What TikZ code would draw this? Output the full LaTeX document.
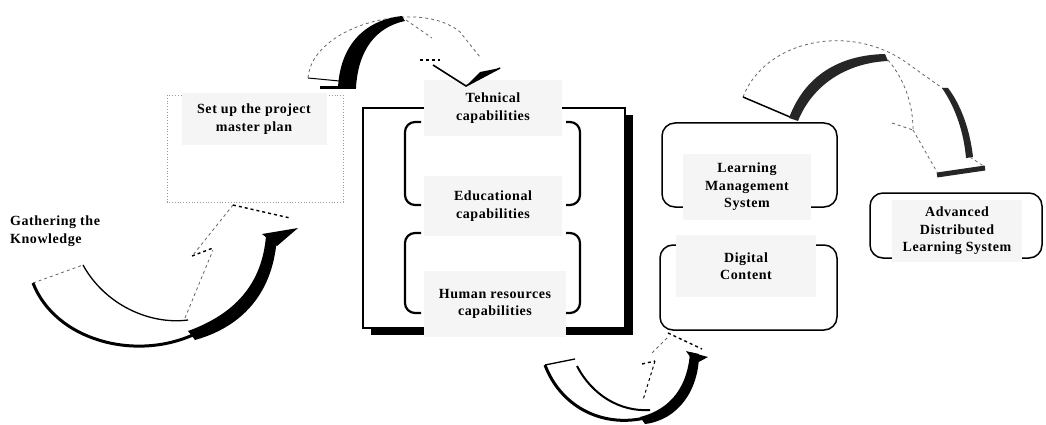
\documentclass[tikz,border=0pt]{standalone}
\usepackage{fontspec}
\setmainfont{Liberation Serif}[LetterSpace=4]
\begin{document}
\begin{tikzpicture}[x=1pt,y=-1pt,
  lbl/.style={font=\bfseries\fontsize{14}{17.5}\selectfont, align=center, inner sep=0pt, fill=black!4},
  plain/.style={font=\bfseries\fontsize{14}{17.5}\selectfont, align=left, inner sep=0pt},
  boxline/.style={line width=1.5pt, rounded corners=13pt},
  brk/.style={line width=2.2pt, rounded corners=10pt},
  dsh/.style={dashed, black!60, line width=0.8pt},
  dshk/.style={dashed, black, line width=1.4pt}]
\useasboundingbox (0,0) rectangle (1046,425);

% ---------- boxes ----------
\draw[dotted, black!40, line width=0.8pt] (167,95) rectangle (343,202);
\fill (371,115) rectangle (633,335);
\filldraw[fill=white, draw=black, line width=1.2pt] (363,108) rectangle (625,328);
% brackets
\draw[brk] (421,122) -- (405,122) -- (405,205) -- (421,205);
\draw[brk] (566,122) -- (580,122) -- (580,205) -- (566,205);
\draw[brk] (421,233) -- (405,233) -- (405,313) -- (421,313);
\draw[brk] (566,233) -- (580,233) -- (580,313) -- (566,313);
% right boxes
\draw[boxline] (662,123) rectangle (837,207);
\draw[boxline] (660,245) rectangle (837,330);
\draw[boxline] (870,193) rectangle (1042,258);

% ---------- labels ----------
\node[plain, anchor=west] (gath) at (10,231) {Gathering the\\Knowledge};
\node[lbl, minimum width=145pt, minimum height=52pt] (setup) at (254,119) {Set up the project\\master plan};
\node[lbl, minimum width=138pt, minimum height=56pt] (tech) at (493,108) {Tehnical\\capabilities};
\node[lbl, minimum width=138pt, minimum height=60pt] (edu) at (493,206) {Educational\\capabilities};
\node[lbl, minimum width=142pt, minimum height=66pt] (hr) at (495,304) {Human resources\\capabilities};
\node[lbl, minimum width=128pt, minimum height=66pt] (lms) at (747,187) {Learning\\Management\\System};
\node[lbl, minimum width=140pt, minimum height=62pt] (dc) at (746,266) {Digital\\Content};
\node[lbl, minimum width=130pt, minimum height=62pt] (adls) at (957,231) {Advanced\\Distributed\\Learning System};

% ---------- arrow A (bottom left) ----------
\draw[dsh] (33,283) -- (83,265);
\draw[line width=1.3pt] (83,265) .. controls (105,305) and (150,325) .. (188,320);
\draw[line width=3pt] (33,283) .. controls (55,340) and (135,362) .. (195,334);
\fill (188,331) .. controls (235,314) and (262,284) .. (266,236)
  -- (277,236) .. controls (274,290) and (245,326) .. (195,340) -- cycle;
\fill (262,234) -- (298,228) -- (277,246) -- cycle;
\draw[dsh] (185,318) -- (213,250);
\draw[dshk] (192,256) -- (213,248);
\draw[dsh] (233,205) -- (193,255);
\draw[dshk] (233,205) -- (290,218);

% ---------- arrow B (top) ----------
\draw[dsh] (308,78) .. controls (312,25) and (420,-2) .. (460,32) -- (480,57);
\draw[line width=1pt] (308,78) -- (350,82);
\draw[line width=3pt] (320,88) -- (356,88);
\fill (338,88) .. controls (340,45) and (365,20) .. (402,16)
  -- (405,21) .. controls (376,27) and (358,50) .. (356,88) -- cycle;
\draw[dsh] (406,20) -- (432,38);
\draw[dshk] (420,60) -- (440,60);
\draw[line width=1.6pt] (433,65) -- (466,86) -- (500,68);
\fill (466,86) -- (500,68) -- (480,72) -- cycle;

% ---------- arrow C (bottom middle) ----------
\draw[line width=1.3pt] (545,365) -- (575,359);
\draw[line width=3pt] (545,365) .. controls (560,405) and (600,428) .. (645,418);
\draw[line width=2pt] (577,366) .. controls (592,395) and (620,412) .. (650,410);
\fill (640,417) .. controls (672,409) and (688,385) .. (690,352)
  -- (699,354) .. controls (699,390) and (678,420) .. (645,424) -- cycle;
\fill (686,351) -- (708,357) -- (695,364) -- cycle;
\draw[dshk] (668,333) -- (702,349);
\draw[dsh] (667,338) -- (652,353);
\draw[dshk] (642,364) -- (655,361);
\draw[dashed, line width=1pt] (655,361) -- (643,400);

% ---------- arrow D (top right) ----------
\draw[dsh] (743,97) .. controls (765,40) and (850,22) .. (907,63) -- (945,90);
\draw[line width=1.5pt] (743,97) -- (790,117);
\fill[black!85] (789,118) .. controls (805,75) and (840,55) .. (885,54)
  -- (888,61) .. controls (845,63) and (812,86) .. (798,121) -- cycle;
\draw[dsh] (888,60) .. controls (905,80) and (913,105) .. (913,130);
\draw[dsh] (892,123) -- (913,130);
\fill[black!85] (942,88) .. controls (957,110) and (964,135) .. (966,158)
  -- (973,157) .. controls (970,130) and (961,105) .. (948,88) -- cycle;
\draw[dsh] (913,130) -- (937,172);
\draw[line width=5pt, black!85] (937,175) -- (985,168);
\draw[dsh] (970,157) -- (985,167);
\end{tikzpicture}
\end{document}
